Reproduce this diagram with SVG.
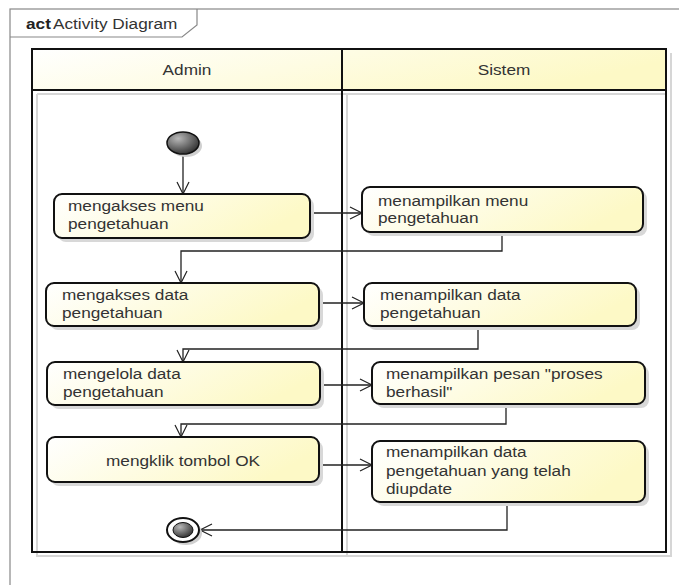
<svg xmlns="http://www.w3.org/2000/svg" width="679" height="585" viewBox="0 0 679 585">
  <defs>
    <linearGradient id="gradYellow" x1="0" y1="0" x2="1" y2="0.3">
      <stop offset="0" stop-color="#ffffff"/>
      <stop offset="1" stop-color="#fdf9c6"/>
    </linearGradient>
    <radialGradient id="gradDark" cx="0.35" cy="0.3" r="0.8">
      <stop offset="0" stop-color="#b8b8b8"/>
      <stop offset="1" stop-color="#262626"/>
    </radialGradient>
    <marker id="open" markerUnits="userSpaceOnUse" markerWidth="16" markerHeight="16" refX="13" refY="7" orient="auto">
      <path d="M1,1 L13,7 L1,13" fill="none" stroke="#222" stroke-width="1.2"/>
    </marker>
  </defs>
  <style>
    .lbl { font-family: "Liberation Sans", Arial, sans-serif; font-size: 14px; fill: #333333; }
    .act { fill: url(#gradYellow); stroke: #111; stroke-width: 2; }
    .shadow { fill: #d8d8d8; }
    .lane { fill: none; stroke: #111; stroke-width: 2; }
    .laneShadow { fill: none; stroke: #d6d6d6; stroke-width: 2; }
    .conn { fill: none; stroke: #222; stroke-width: 1.3; marker-end: url(#open); }
  </style>

  <rect width="679" height="585" fill="#ffffff"/>

  <!-- frame with name tab -->
  <g id="frame">
    <rect x="10" y="9" width="680" height="590" fill="none" stroke="#888" stroke-width="1.2"/>
    <path d="M10,37 H182 L197,25 V9" fill="none" stroke="#888" stroke-width="1.2"/>
    <text class="lbl" transform="matrix(1.23 0 0 1 26 29)" font-weight="bold" style="fill:#222">act</text>
    <text class="lbl" transform="matrix(1.23 0 0 1 53 29)">Activity Diagram</text>
  </g>

  <!-- swimlanes -->
  <g id="lanes">
    <path class="laneShadow" d="M37,94 V556 H671 V53"/>
    <path class="laneShadow" d="M347,94 V556"/>
    <path class="laneShadow" d="M37,94 H666"/>
    <rect x="32" y="49" width="634" height="41" fill="url(#gradYellow)"/>
    <rect class="lane" x="32" y="49" width="634" height="503"/>
    <line class="lane" x1="32" y1="90" x2="666" y2="90"/>
    <line class="lane" x1="342" y1="49" x2="342" y2="552"/>
    <text class="lbl" transform="matrix(1.23 0 0 1 187 75)" text-anchor="middle">Admin</text>
    <text class="lbl" transform="matrix(1.23 0 0 1 504 75)" text-anchor="middle">Sistem</text>
  </g>

  <!-- connectors -->
  <g id="connectors">
    <path class="conn" d="M183,154 V194"/>
    <path class="conn" d="M310,213 H362"/>
    <path class="conn" d="M502,232 V251 H181 V283"/>
    <path class="conn" d="M319,303 H364"/>
    <path class="conn" d="M478,326 V349 H183 V362"/>
    <path class="conn" d="M320,385 H372"/>
    <path class="conn" d="M506,404 V424 H181 V437"/>
    <path class="conn" d="M319,465 H372"/>
    <path class="conn" d="M507,502 V530 H200"/>
  </g>

  <g id="start">
    <ellipse cx="186" cy="146" rx="16" ry="11" fill="#d0d0d0"/>
    <ellipse cx="183" cy="143" rx="16" ry="11" fill="url(#gradDark)" stroke="#111" stroke-width="1.5"/>
  </g>

  <g id="a1">
    <rect class="shadow" x="58" y="198" width="256" height="44" rx="8"/>
    <rect class="act" x="54" y="194" width="256" height="44" rx="8"/>
    <text class="lbl" transform="matrix(1.23 0 0 1 68 211)">mengakses menu</text>
    <text class="lbl" transform="matrix(1.23 0 0 1 68 229)">pengetahuan</text>
  </g>

  <g id="a2">
    <rect class="shadow" x="366" y="191" width="281" height="45" rx="8"/>
    <rect class="act" x="362" y="187" width="281" height="45" rx="8"/>
    <text class="lbl" transform="matrix(1.23 0 0 1 378 206)">menampilkan menu</text>
    <text class="lbl" transform="matrix(1.23 0 0 1 378 223)">pengetahuan</text>
  </g>

  <g id="a3">
    <rect class="shadow" x="50" y="287" width="273" height="43" rx="8"/>
    <rect class="act" x="46" y="283" width="273" height="43" rx="8"/>
    <text class="lbl" transform="matrix(1.23 0 0 1 62 300)">mengakses data</text>
    <text class="lbl" transform="matrix(1.23 0 0 1 62 318)">pengetahuan</text>
  </g>

  <g id="a4">
    <rect class="shadow" x="368" y="287" width="272" height="43" rx="8"/>
    <rect class="act" x="364" y="283" width="272" height="43" rx="8"/>
    <text class="lbl" transform="matrix(1.23 0 0 1 380 300)">menampilkan data</text>
    <text class="lbl" transform="matrix(1.23 0 0 1 380 318)">pengetahuan</text>
  </g>

  <g id="a5">
    <rect class="shadow" x="51" y="366" width="273" height="43" rx="8"/>
    <rect class="act" x="47" y="362" width="273" height="43" rx="8"/>
    <text class="lbl" transform="matrix(1.23 0 0 1 63 379)">mengelola data</text>
    <text class="lbl" transform="matrix(1.23 0 0 1 63 397)">pengetahuan</text>
  </g>

  <g id="a6">
    <rect class="shadow" x="376" y="366" width="273" height="42" rx="8"/>
    <rect class="act" x="372" y="362" width="273" height="42" rx="8"/>
    <text class="lbl" transform="matrix(1.23 0 0 1 386 379)">menampilkan pesan "proses</text>
    <text class="lbl" transform="matrix(1.23 0 0 1 386 397)">berhasil"</text>
  </g>

  <g id="a7">
    <rect class="shadow" x="51" y="441" width="272" height="45" rx="8"/>
    <rect class="act" x="47" y="437" width="272" height="45" rx="8"/>
    <text class="lbl" transform="matrix(1.23 0 0 1 183 466)" text-anchor="middle">mengklik tombol OK</text>
  </g>

  <g id="a8">
    <rect class="shadow" x="376" y="445" width="273" height="61" rx="8"/>
    <rect class="act" x="372" y="441" width="273" height="61" rx="8"/>
    <text class="lbl" transform="matrix(1.23 0 0 1 386 457)">menampilkan data</text>
    <text class="lbl" transform="matrix(1.23 0 0 1 386 476)">pengetahuan yang telah</text>
    <text class="lbl" transform="matrix(1.23 0 0 1 386 494)">diupdate</text>
  </g>

  <g id="end">
    <ellipse cx="186" cy="533" rx="16" ry="12" fill="#d0d0d0"/>
    <ellipse cx="183" cy="530" rx="16" ry="12" fill="#ffffff" stroke="#111" stroke-width="2"/>
    <ellipse cx="183" cy="530" rx="10" ry="7.5" fill="url(#gradDark)" stroke="#111" stroke-width="1"/>
  </g>
</svg>
